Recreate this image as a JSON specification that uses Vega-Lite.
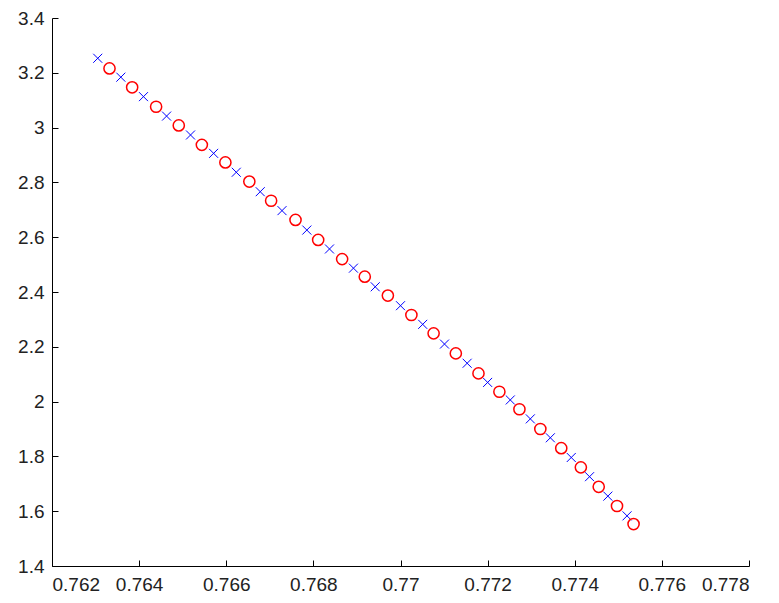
{
  "$schema": "https://vega.github.io/schema/vega-lite/v6.json",
  "width": 697,
  "height": 548,
  "autosize": {"type": "none"},
  "padding": {"left": 52, "top": 18, "right": 30, "bottom": 37},
  "background": "white",
  "config": {
    "view": {"stroke": null},
    "axis": {
      "grid": false,
      "domainColor": "#000000",
      "tickColor": "#000000",
      "domainWidth": 1,
      "tickWidth": 1,
      "tickSize": -6,
      "labelFont": "Liberation Sans",
      "labelFontSize": 19,
      "labelColor": "#222222",
      "title": null
    }
  },
  "datasets": {
    "pts": [
      {"x": 0.76305, "y": 3.253, "s": "cross"},
      {"x": 0.76358, "y": 3.184, "s": "cross"},
      {"x": 0.76410, "y": 3.113, "s": "cross"},
      {"x": 0.76463, "y": 3.042, "s": "cross"},
      {"x": 0.76518, "y": 2.973, "s": "cross"},
      {"x": 0.76571, "y": 2.906, "s": "cross"},
      {"x": 0.76623, "y": 2.837, "s": "cross"},
      {"x": 0.76678, "y": 2.766, "s": "cross"},
      {"x": 0.76728, "y": 2.697, "s": "cross"},
      {"x": 0.76785, "y": 2.626, "s": "cross"},
      {"x": 0.76837, "y": 2.557, "s": "cross"},
      {"x": 0.76892, "y": 2.487, "s": "cross"},
      {"x": 0.76942, "y": 2.419, "s": "cross"},
      {"x": 0.77000, "y": 2.350, "s": "cross"},
      {"x": 0.77051, "y": 2.282, "s": "cross"},
      {"x": 0.77101, "y": 2.210, "s": "cross"},
      {"x": 0.77153, "y": 2.140, "s": "cross"},
      {"x": 0.77200, "y": 2.070, "s": "cross"},
      {"x": 0.77252, "y": 2.006, "s": "cross"},
      {"x": 0.77298, "y": 1.937, "s": "cross"},
      {"x": 0.77344, "y": 1.868, "s": "cross"},
      {"x": 0.77392, "y": 1.796, "s": "cross"},
      {"x": 0.77434, "y": 1.726, "s": "cross"},
      {"x": 0.77476, "y": 1.655, "s": "cross"},
      {"x": 0.77520, "y": 1.583, "s": "cross"},
      {"x": 0.76332, "y": 3.216, "s": "circle"},
      {"x": 0.76384, "y": 3.147, "s": "circle"},
      {"x": 0.76439, "y": 3.076, "s": "circle"},
      {"x": 0.76491, "y": 3.008, "s": "circle"},
      {"x": 0.76544, "y": 2.937, "s": "circle"},
      {"x": 0.76598, "y": 2.873, "s": "circle"},
      {"x": 0.76653, "y": 2.803, "s": "circle"},
      {"x": 0.76703, "y": 2.733, "s": "circle"},
      {"x": 0.76759, "y": 2.663, "s": "circle"},
      {"x": 0.76811, "y": 2.590, "s": "circle"},
      {"x": 0.76866, "y": 2.520, "s": "circle"},
      {"x": 0.76918, "y": 2.456, "s": "circle"},
      {"x": 0.76971, "y": 2.387, "s": "circle"},
      {"x": 0.77025, "y": 2.316, "s": "circle"},
      {"x": 0.77076, "y": 2.249, "s": "circle"},
      {"x": 0.77127, "y": 2.176, "s": "circle"},
      {"x": 0.77179, "y": 2.103, "s": "circle"},
      {"x": 0.77227, "y": 2.036, "s": "circle"},
      {"x": 0.77273, "y": 1.972, "s": "circle"},
      {"x": 0.77321, "y": 1.900, "s": "circle"},
      {"x": 0.77369, "y": 1.830, "s": "circle"},
      {"x": 0.77414, "y": 1.760, "s": "circle"},
      {"x": 0.77455, "y": 1.689, "s": "circle"},
      {"x": 0.77497, "y": 1.619, "s": "circle"},
      {"x": 0.77535, "y": 1.553, "s": "circle"}
    ]
  },
  "data": {"name": "pts"},
  "encoding": {
    "x": {
      "field": "x", "type": "quantitative",
      "scale": {"domain": [0.762, 0.778], "nice": false, "zero": false},
      "axis": {"values": [0.762, 0.764, 0.766, 0.768, 0.77, 0.772, 0.774, 0.776, 0.778], "format": "~g", "labelPadding": 15}
    },
    "y": {
      "field": "y", "type": "quantitative",
      "scale": {"domain": [1.4, 3.4], "nice": false, "zero": false},
      "axis": {"values": [1.4, 1.6, 1.8, 2, 2.2, 2.4, 2.6, 2.8, 3, 3.2, 3.4], "format": "~g", "labelPadding": 14}
    }
  },
  "layer": [
    {
      "transform": [{"filter": "datum.s === 'cross'"}],
      "mark": {"type": "point", "shape": "M-1,-1L1,1M1,-1L-1,1", "size": 81, "stroke": "#0000ff", "strokeWidth": 1, "filled": false, "opacity": 1}
    },
    {
      "transform": [{"filter": "datum.s === 'circle'"}],
      "mark": {"type": "point", "shape": "circle", "size": 125, "stroke": "#ff0000", "strokeWidth": 1.5, "filled": false, "opacity": 1}
    }
  ]
}
